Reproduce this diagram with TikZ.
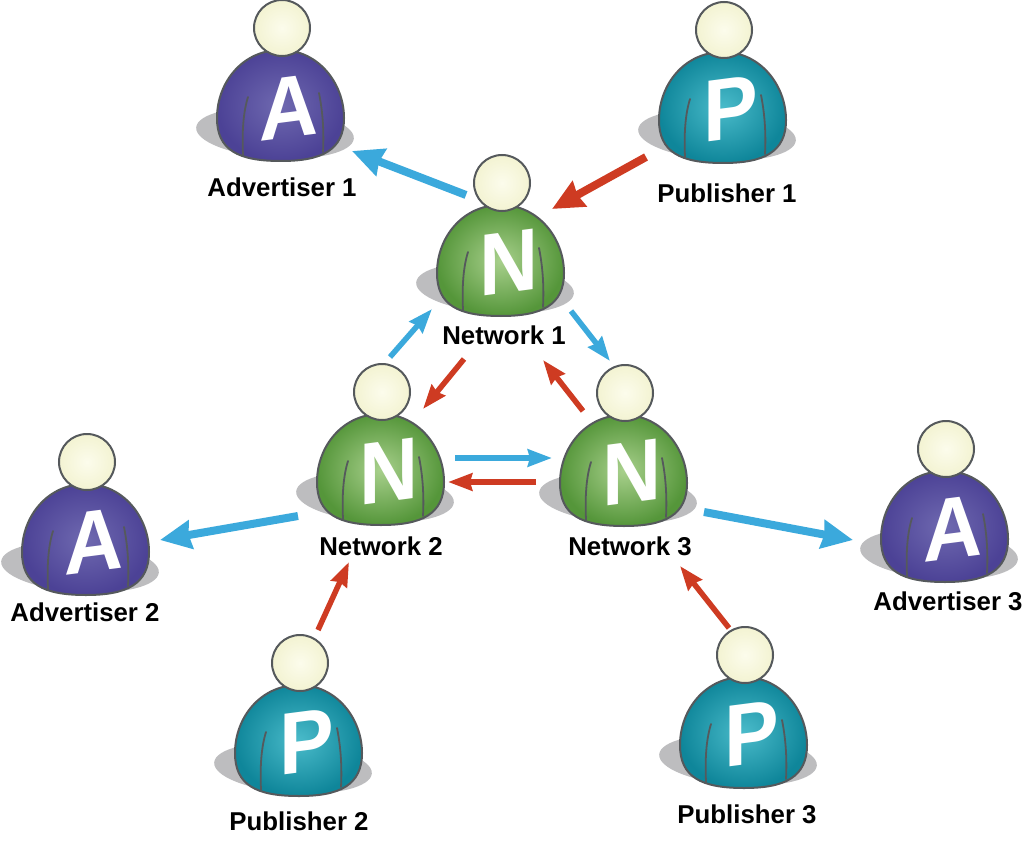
\documentclass[tikz,border=0pt]{standalone}
\usepackage{fontspec}
\setmainfont{Liberation Sans}
\usetikzlibrary{arrows.meta}
\definecolor{outl}{HTML}{55595C}
\definecolor{shad}{HTML}{BDBDBF}
\definecolor{headin}{HTML}{FCFCEC}
\definecolor{headout}{HTML}{F3F3D2}
\definecolor{apin}{HTML}{6F69B0}\definecolor{apout}{HTML}{4C4296}
\definecolor{ppin}{HTML}{4ABBCA}\definecolor{ppout}{HTML}{0F869A}
\definecolor{npin}{HTML}{A8D08C}\definecolor{npout}{HTML}{55963A}
\definecolor{bluearr}{HTML}{3BA9DC}
\definecolor{redarr}{HTML}{CE3B22}
\tikzset{
  headnode/.style={circle,draw=outl,line width=2pt,inner color=headin,outer color=headout,minimum size=56pt,inner sep=0pt},
  letternode/.style={text=white,font=\fontsize{88}{88}\selectfont\bfseries,inner sep=0pt,transform shape,cm={0.93,0.12,0,1,(0,0)}},
  labelnode/.style={font=\fontsize{25.8}{28}\selectfont\bfseries,text=black,inner sep=0pt},
  shadowshape/.style={fill=shad},
  bodyshape/.style={draw=outl,line width=2pt},
  foldline/.style={draw=outl,line width=1.8pt,line cap=round},
  bigb/.style={draw=bluearr,line width=8pt,-{Stealth[length=31pt,width=28pt,inset=2pt]}},
  bigr/.style={draw=redarr,line width=8pt,-{Stealth[length=31pt,width=28pt,inset=2pt]}},
  smallb/.style={draw=bluearr,line width=5.5pt,-{Stealth[length=24pt,width=17pt,inset=2pt]}},
  smallr/.style={draw=redarr,line width=5.5pt,-{Stealth[length=24pt,width=17pt,inset=2pt]}},
}
% name, x, y, letter, inner, outer
\newcommand\personfig[6]{%
  \begin{scope}[shift={(#2,#3)}]
    \begin{scope}[shift={(-7,105)},rotate=-4]
      \fill[shadowshape] (0,0) ellipse [x radius=79pt,y radius=25pt];
    \end{scope}
    \path[bodyshape,inner color=#5,outer color=#6]
      (-1,22) .. controls (36,22) and (62,55) .. (62,90)
      .. controls (62,122) and (40,133) .. (-1,133)
      .. controls (-44,133) and (-65,122) .. (-65,90)
      .. controls (-65,55) and (-40,22) .. (-1,22) -- cycle;
    \draw[foldline] (-34,69) .. controls (-39,85) and (-40,105) .. (-39,127);
    \draw[foldline] (37,65) .. controls (41,85) and (42,105) .. (41,124);
    \node[letternode] (#1let) at (7,79) {#4};
    \node[headnode] (#1) at (0,0) {};
  \end{scope}}
\begin{document}
\begin{tikzpicture}[x=1pt,y=-1pt]
\fill[white] (0,0) rectangle (1024,842);
\useasboundingbox (0,0) rectangle (1024,842);
\personfig{aone}{282}{28}{A}{apin}{apout}
\personfig{pone}{724}{30}{P}{ppin}{ppout}
\personfig{none}{502}{183}{N}{npin}{npout}
\personfig{ntwo}{382}{392}{N}{npin}{npout}
\personfig{nthree}{625}{393}{N}{npin}{npout}
\personfig{atwo}{87}{462}{A}{apin}{apout}
\personfig{athree}{946}{449}{A}{apin}{apout}
\personfig{ptwo}{300}{663}{P}{ppin}{ppout}
\personfig{pthree}{745}{655}{P}{ppin}{ppout}
\node[labelnode] (laone) at (282,187) {Advertiser 1};
\node[labelnode] (lpone) at (727,193) {Publisher 1};
\node[labelnode] (lnone) at (504,335) {Network 1};
\node[labelnode] (lntwo) at (381,546) {Network 2};
\node[labelnode] (lnthree) at (630,546) {Network 3};
\node[labelnode] (latwo) at (85,612) {Advertiser 2};
\node[labelnode] (lathree) at (948,601) {Advertiser 3};
\node[labelnode] (lptwo) at (299,821) {Publisher 2};
\node[labelnode] (lpthree) at (747,814) {Publisher 3};
% connector ends
\coordinate (c1s) at (466,195); \coordinate (c1e) at (352,151);
\coordinate (c2s) at (646,157); \coordinate (c2e) at (552,209);
\coordinate (c3s) at (571,311); \coordinate (c3e) at (610,361);
\coordinate (c4s) at (390,357); \coordinate (c4e) at (432,309);
\coordinate (c5s) at (464,359); \coordinate (c5e) at (423,409);
\coordinate (c6s) at (583,411); \coordinate (c6e) at (543,360);
\coordinate (c7s) at (455,458); \coordinate (c7e) at (552,458);
\coordinate (c8s) at (536,482); \coordinate (c8e) at (448,482);
\coordinate (c9s) at (298,516); \coordinate (c9e) at (160,540);
\coordinate (c10s) at (704,512); \coordinate (c10e) at (853,540);
\coordinate (c11s) at (318,630); \coordinate (c11e) at (349,562);
\coordinate (c12s) at (729,628); \coordinate (c12e) at (680,566);
\draw[bigb] (c1s) -- (c1e);
\draw[bigr] (c2s) -- (c2e);
\draw[smallb] (c3s) -- (c3e);
\draw[smallb] (c4s) -- (c4e);
\draw[smallr] (c5s) -- (c5e);
\draw[smallr] (c6s) -- (c6e);
\draw[smallb] (c7s) -- (c7e);
\draw[smallr] (c8s) -- (c8e);
\draw[bigb] (c9s) -- (c9e);
\draw[bigb] (c10s) -- (c10e);
\draw[smallr] (c11s) -- (c11e);
\draw[smallr] (c12s) -- (c12e);
\end{tikzpicture}
\end{document}
